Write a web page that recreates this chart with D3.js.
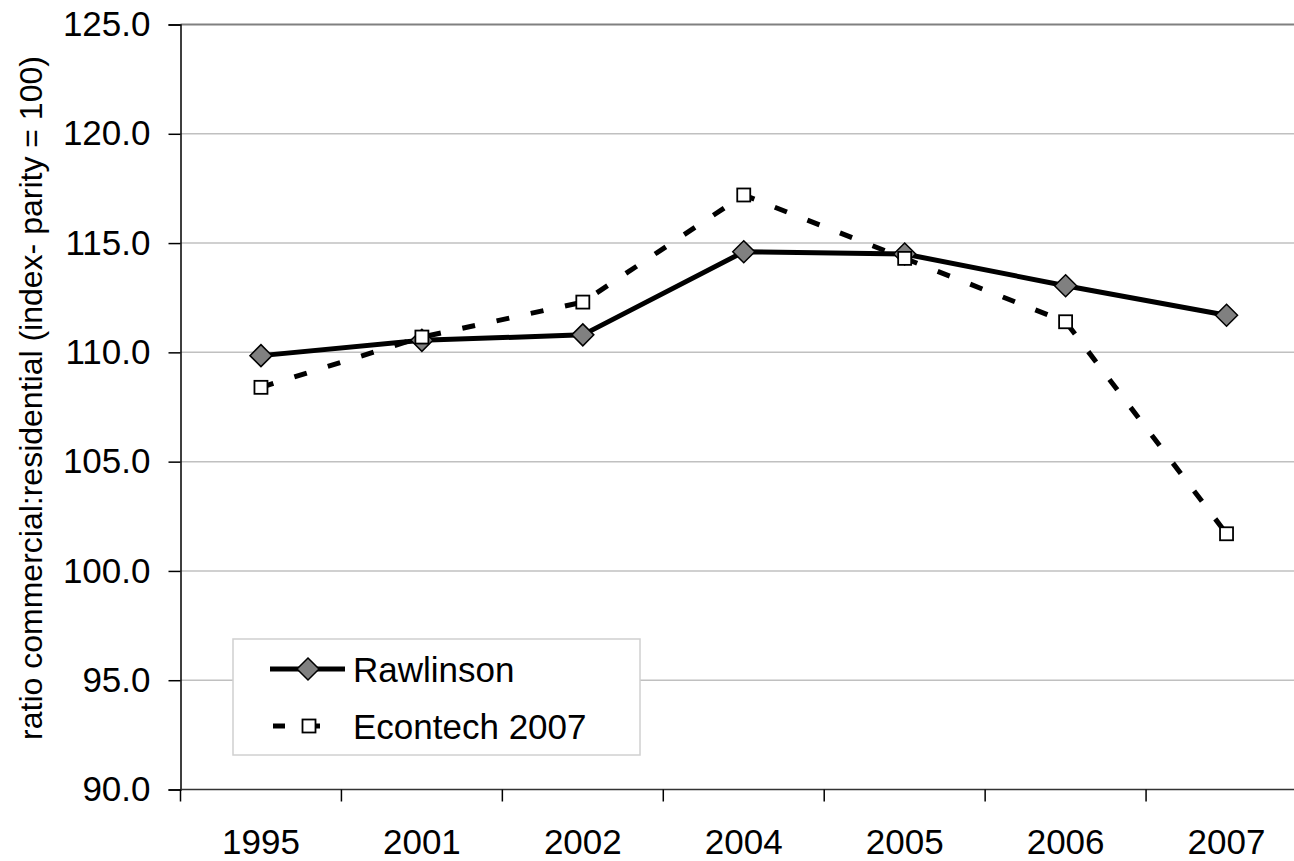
<!DOCTYPE html>
<html><head><meta charset="utf-8">
<script src="https://cdn.jsdelivr.net/npm/d3@7"></script>
<style>body{margin:0;background:#fff;overflow:hidden}svg{display:block}</style>
</head><body>
<svg id="c" width="1294" height="861"></svg>
<script>
const categories = ["1995","2001","2002","2004","2005","2006","2007"];
const rawlinson = [109.85, 110.55, 110.8, 114.6, 114.5, 113.05, 111.7];
const econtech = [108.4, 110.7, 112.3, 117.2, 114.3, 111.4, 101.7];
const yTicks = [90,95,100,105,110,115,120,125];
const seriesNames = ["Rawlinson","Econtech 2007"];
const yTitle = "ratio commercial:residential (index- parity = 100)";

const svg = d3.select("#c");
const font = "'Liberation Sans', Arial, sans-serif";
const L = 180.5, R = 1307, T = 24.5, B = 789.5;
const x = d3.scaleBand().domain(categories).range([L, R]);
const y = d3.scaleLinear().domain([90,125]).range([B, T]);

// gridlines
svg.append("g").selectAll("line").data(yTicks.filter(v=>v>90 && v<125)).join("line")
  .attr("x1", L).attr("x2", R).attr("y1", d=>y(d)).attr("y2", d=>y(d))
  .attr("stroke", "#c0c0c0").attr("stroke-width", 1.5);
// top border
svg.append("line").attr("x1", L).attr("x2", R).attr("y1", y(125)).attr("y2", y(125))
  .attr("stroke", "#808080").attr("stroke-width", 2);

// y axis
const ya = svg.append("g").attr("transform", `translate(${L},0)`)
  .call(d3.axisLeft(y).tickValues(yTicks).tickFormat(d3.format(".1f")).tickSize(12).tickPadding(18));
ya.select(".domain").attr("stroke", "#000").attr("stroke-width", 1.5);
ya.selectAll(".tick line").attr("stroke", "#000").attr("stroke-width", 1.5);
ya.selectAll("text").attr("font-family", font).attr("font-size", 35).attr("fill", "#000");

// x axis
const xa = svg.append("g").attr("transform", `translate(0,${B})`)
  .call(d3.axisBottom(x).tickSize(0).tickPadding(0));
xa.select(".domain").remove();
xa.selectAll(".tick text").attr("font-family", font).attr("font-size", 35).attr("fill", "#000").attr("dy", 0).attr("y", 64);
svg.append("line").attr("x1", L).attr("x2", R).attr("y1", B).attr("y2", B).attr("stroke", "#333").attr("stroke-width", 1.5);
svg.append("g").selectAll("line").data(d3.range(categories.length+1)).join("line")
  .attr("x1", i=>L + i*x.step()).attr("x2", i=>L + i*x.step())
  .attr("y1", B).attr("y2", B+12).attr("stroke", "#000").attr("stroke-width", 1.5);

// y title
svg.append("text").attr("transform", `translate(42,398) rotate(-90)`)
  .attr("text-anchor", "middle").attr("font-family", font).attr("font-size", 32).text(yTitle);

const cx = (d,i)=>x(categories[i]) + x.bandwidth()/2;
const line = d3.line().x(cx).y(d=>y(d));
const diamond = (g, px, py) => g.append("path")
  .attr("d", `M${px},${py-11}L${px+11},${py}L${px},${py+11}L${px-11},${py}Z`)
  .attr("fill", "#808080").attr("stroke", "#000").attr("stroke-width", 1.5);
const square = (g, px, py) => g.append("rect")
  .attr("x", px-6.5).attr("y", py-6.5).attr("width", 13).attr("height", 13)
  .attr("fill", "#fff").attr("stroke", "#000").attr("stroke-width", 1.8);

// Rawlinson
svg.append("path").datum(rawlinson).attr("d", line).attr("fill","none").attr("stroke","#000").attr("stroke-width",5);
const gR = svg.append("g");
rawlinson.forEach((d,i)=>diamond(gR, cx(d,i), y(d)));
// Econtech
svg.append("path").datum(econtech).attr("d", line).attr("fill","none").attr("stroke","#000").attr("stroke-width",5)
  .attr("stroke-dasharray","13,22");
const gE = svg.append("g");
econtech.forEach((d,i)=>square(gE, cx(d,i), y(d)));

// legend
const lg = svg.append("g");
lg.append("rect").attr("x", 233).attr("y", 639).attr("width", 407).attr("height", 116)
  .attr("fill", "#fff").attr("stroke", "#d0d0d0").attr("stroke-width", 1.5);
lg.append("line").attr("x1", 270).attr("x2", 345).attr("y1", 669).attr("y2", 669).attr("stroke", "#000").attr("stroke-width", 5);
diamond(lg, 308, 669);
lg.append("line").attr("x1", 273).attr("x2", 285).attr("y1", 726).attr("y2", 726).attr("stroke", "#000").attr("stroke-width", 5);
lg.append("line").attr("x1", 315).attr("x2", 320).attr("y1", 726).attr("y2", 726).attr("stroke", "#000").attr("stroke-width", 5);
square(lg, 309, 726);
lg.selectAll("text.l").data(seriesNames).join("text").attr("class","l")
  .attr("x", 353).attr("y", (d,i)=>682 + i*57).attr("font-family", font).attr("font-size", 35).text(d=>d);
</script>
</body></html>
